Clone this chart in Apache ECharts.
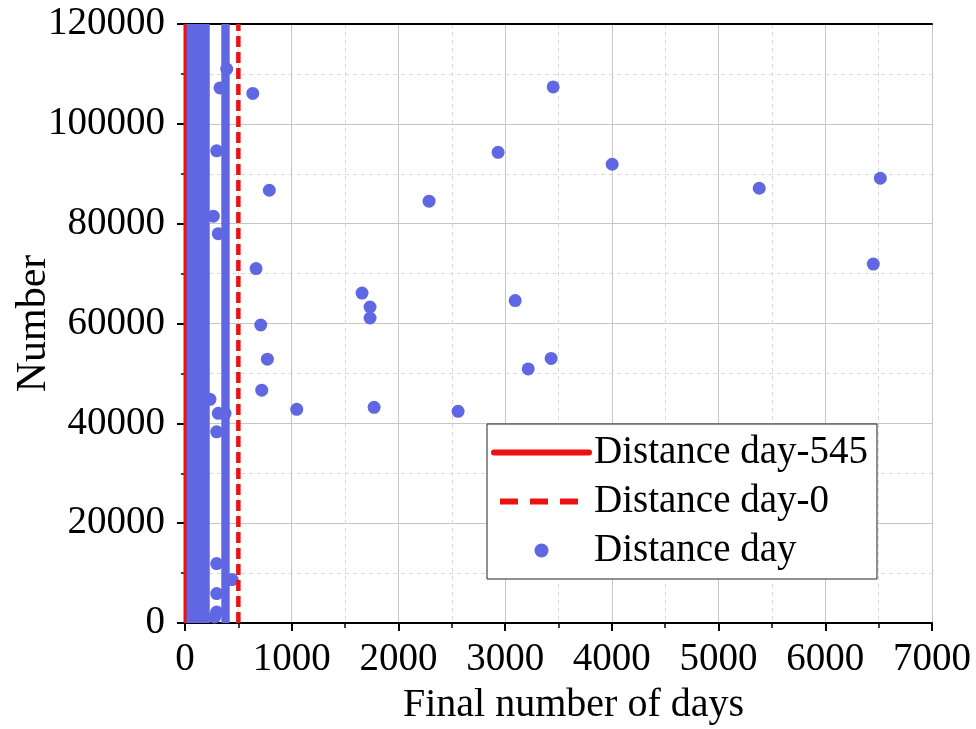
<!DOCTYPE html>
<html>
<head>
<meta charset="utf-8">
<script src="https://cdn.jsdelivr.net/npm/echarts@6/dist/echarts.min.js"></script>
<style>html,body{margin:0;padding:0;background:#fff;}#c{width:976px;height:729px;}</style>
</head>
<body>
<div id="c"></div>
<script>
// ---- data ----
const xName = 'Final number of days';
const yName = 'Number';
const xMin = 0, xMax = 7000, xStep = 1000;
const yMin = 0, yMax = 120000, yStep = 20000;

const seriesNames = ['Distance day-545', 'Distance day-0', 'Distance day'];

// vertical reference lines (x position in days)
const solidLineX = 0;
const dashedLineX = 500;

// dense, fully overlapping point columns (x range in days), spanning the full y range
const denseBandX = [[5, 232], [340, 419]];
const denseBandY = [0, 120000];

// individually visible points
const pointDays = [391, 328, 635, 297, 790, 265, 312, 666, 710, 772, 719, 234, 312, 375, 297, 1047,
  297, 440, 297, 297, 278,
  1659, 1734, 1734, 1772, 2287, 2559, 2934, 3094, 3216, 3431, 3450, 4003, 5381, 6516, 6450];
const pointNumber = [110980, 107200, 106100, 94600, 86700, 81500, 78000, 71000, 59700, 52850, 46650, 44800, 42000, 42000, 38300, 42800,
  11900, 8700, 5900, 2200, 1200,
  66100, 63300, 61100, 43200, 84500, 42400, 94300, 64600, 50900, 53000, 107400, 91900, 87100, 89100, 71900];

// ---- chart ----
const BLUE = '#5f68e2';
const RED = '#ee1111';
const FONT = 'Liberation Serif';

const chart = echarts.init(document.getElementById('c'), null, {renderer: 'canvas'});
const scatterData = pointDays.map((d, i) => [d, pointNumber[i]]);

const option = {
  animation: false,
  backgroundColor: '#fff',
  grid: {left: 185, right: 44, top: 24, bottom: 106, containLabel: false, outerBoundsMode: 'none'},
  legend: {
    orient: 'vertical',
    left: 487, top: 424,
    padding: [9, 9, 9, 4],
    itemGap: 10,
    itemWidth: 95,
    itemHeight: 14,
    borderColor: '#222', borderWidth: 1,
    backgroundColor: '#fff',
    textStyle: {fontFamily: FONT, fontSize: 39, color: '#000'},
    data: [
      {name: seriesNames[0], itemStyle: {opacity: 0}, lineStyle: {width: 6, color: RED, type: 'solid', cap: 'round'}},
      {name: seriesNames[1], itemStyle: {opacity: 0}, lineStyle: {width: 6, color: RED, type: [18, 12], dashOffset: 24}},
      {name: seriesNames[2], icon: 'circle'}
    ],
    selectedMode: false
  },
  xAxis: [{
    type: 'value', min: xMin, max: xMax, interval: xStep,
    name: xName, nameLocation: 'middle', nameGap: 62, nameMoveOverlap: false,
    nameTextStyle: {fontFamily: FONT, fontSize: 40, color: '#000', padding: [0, 0, 0, 30]},
    axisLine: {show: true, onZero: false, lineStyle: {color: '#000', width: 2}},
    axisTick: {show: true, length: 8, lineStyle: {color: '#000', width: 2}},
    minorTick: {show: true, splitNumber: 2, length: 5, lineStyle: {color: '#000', width: 1.5}},
    axisLabel: {fontFamily: FONT, fontSize: 39, color: '#000', margin: 17, formatter: v => String(v)},
    splitLine: {show: true, lineStyle: {color: '#c6c6c6', width: 1}},
    minorSplitLine: {show: true, lineStyle: {color: '#dadada', width: 1, type: [4, 4]}}
  }, {
    type: 'value', min: xMin, max: xMax, position: 'top',
    axisLine: {show: true, onZero: false, lineStyle: {color: '#000', width: 2}},
    axisTick: {show: false}, axisLabel: {show: false}, splitLine: {show: false}
  }],
  yAxis: {
    type: 'value', min: yMin, max: yMax, interval: yStep,
    name: yName, nameLocation: 'middle', nameGap: 130, nameRotate: 90, nameMoveOverlap: false,
    nameTextStyle: {fontFamily: FONT, fontSize: 42, color: '#000'},
    axisLine: {show: true, onZero: false, lineStyle: {color: '#000', width: 2}},
    axisTick: {show: true, length: 8, lineStyle: {color: '#000', width: 2}},
    minorTick: {show: true, splitNumber: 2, length: 4, lineStyle: {color: '#000', width: 1.5}},
    axisLabel: {fontFamily: FONT, fontSize: 39, color: '#000', margin: 20, formatter: v => String(v)},
    splitLine: {show: true, lineStyle: {color: '#c6c6c6', width: 1}},
    minorSplitLine: {show: true, lineStyle: {color: '#dadada', width: 1, type: [4, 4]}}
  },
  series: [
    {
      name: seriesNames[2], type: 'scatter', symbol: 'circle', symbolSize: 13, z: 3,
      itemStyle: {color: BLUE, opacity: 1},
      data: scatterData,
      markArea: {
        silent: true,
        itemStyle: {color: BLUE, opacity: 1},
        data: denseBandX.map(b => [{xAxis: b[0], yAxis: denseBandY[0]}, {xAxis: b[1], yAxis: denseBandY[1]}])
      }
    },
    {
      name: seriesNames[0], type: 'line', showSymbol: false, symbol: 'none', clip: false, z: 5,
      lineStyle: {color: RED, width: 3, type: 'solid'},
      itemStyle: {color: RED},
      data: [[solidLineX, yMin], [solidLineX, yMax]]
    },
    {
      name: seriesNames[1], type: 'line', showSymbol: false, symbol: 'none', clip: false, z: 5,
      lineStyle: {color: RED, width: 4.5, type: [11, 5]},
      itemStyle: {color: RED},
      data: [[dashedLineX, yMin], [dashedLineX, yMax]]
    }
  ]
};
chart.setOption(option);
</script>
</body>
</html>
